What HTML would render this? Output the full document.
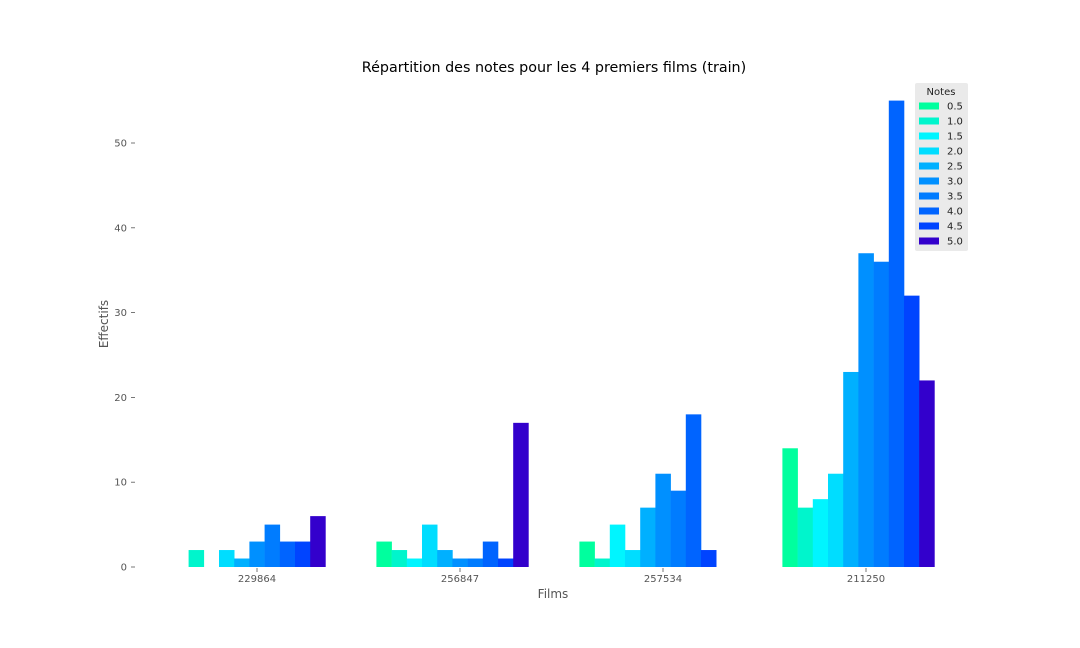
<!DOCTYPE html>
<html><head><meta charset="utf-8"><style>
body{margin:0;background:#fff;}
svg{display:block;font-family:"DejaVu Sans","Liberation Sans",sans-serif;}
</style></head><body>
<svg id="chart" width="1080" height="648">
<text x="554" y="72" text-anchor="middle" font-size="14.3" fill="#000">Répartition des notes pour les 4 premiers films (train)</text>
<text x="553" y="598" text-anchor="middle" font-size="12" fill="#555">Films</text>
<text transform="translate(108,324) rotate(-90)" text-anchor="middle" font-size="12" fill="#555">Effectifs</text>
<g id="bars"></g><g id="axes"></g><g id="legend"></g>
</svg>
<script>
const films = ["229864","256847","257534","211250"];
const notes = ["0.5","1.0","1.5","2.0","2.5","3.0","3.5","4.0","4.5","5.0"];
const colors = ["#00ff9e","#00f5cc","#00f5ff","#00ddff","#00b0ff","#0090ff","#007cff","#0064ff","#0044ff","#3300cc"];
const s05 = [0,3,3,14];
const s10 = [2,2,1,7];
const s15 = [0,1,5,8];
const s20 = [2,5,2,11];
const s25 = [1,2,7,23];
const s30 = [3,1,11,37];
const s35 = [5,1,9,36];
const s40 = [3,3,18,55];
const s45 = [3,1,2,32];
const s50 = [6,17,0,22];
const series = [s05,s10,s15,s20,s25,s30,s35,s40,s45,s50];
const yTicks = [0,10,20,30,40,50];

const NS="http://www.w3.org/2000/svg";
const y0=567, ppu=8.48;
const yScale=v=>y0-v*ppu;
const xCenter=i=>257+i*203;
const bw=15.2;
const bars=document.getElementById('bars');
films.forEach((f,gi)=>{
  series.forEach((s,si)=>{
    const v=s[gi]; if(!v) return;
    const r=document.createElementNS(NS,'rect');
    r.setAttribute('x',xCenter(gi)-5.5*bw+si*bw);
    r.setAttribute('y',yScale(v));
    r.setAttribute('width',bw+0.3);
    r.setAttribute('height',v*ppu);
    r.setAttribute('fill',colors[si]);
    
    
    bars.appendChild(r);
  });
});
const axes=document.getElementById('axes');
yTicks.forEach(t=>{
  const y=yScale(t);
  const tx=document.createElementNS(NS,'text');
  tx.setAttribute('x',127);tx.setAttribute('y',y+3.5);tx.setAttribute('text-anchor','end');
  tx.setAttribute('font-size','10');tx.setAttribute('fill','#555');
  tx.textContent=t;
  
  
  axes.appendChild(tx);
  const l=document.createElementNS(NS,'line');
  l.setAttribute('x1',131);l.setAttribute('x2',135);l.setAttribute('y1',y);l.setAttribute('y2',y);
  l.setAttribute('stroke','#555');l.setAttribute('stroke-width','0.8');
  
  
  axes.appendChild(l);
});
films.forEach((f,i)=>{
  const x=xCenter(i);
  const l=document.createElementNS(NS,'line');
  l.setAttribute('x1',x);l.setAttribute('x2',x);l.setAttribute('y1',568);l.setAttribute('y2',572);
  l.setAttribute('stroke','#555');l.setAttribute('stroke-width','0.8');
  
  
  axes.appendChild(l);
  const tx=document.createElementNS(NS,'text');
  tx.setAttribute('x',x);tx.setAttribute('y',582);tx.setAttribute('text-anchor','middle');
  tx.setAttribute('font-size','10');tx.setAttribute('fill','#555');
  tx.textContent=f;
  
  
  axes.appendChild(tx);
});
const lg=document.getElementById('legend');


const bg=document.createElementNS(NS,'rect');
bg.setAttribute('x',915);bg.setAttribute('y',83);bg.setAttribute('width',53);bg.setAttribute('height',168);
bg.setAttribute('rx',2);bg.setAttribute('fill','#eaeaea');


lg.appendChild(bg);
const lt=document.createElementNS(NS,'text');
lt.setAttribute('x',941);lt.setAttribute('y',95);lt.setAttribute('text-anchor','middle');
lt.setAttribute('font-size','10');lt.setAttribute('fill','#222');lt.textContent='Notes';


lg.appendChild(lt);
notes.forEach((n,i)=>{
  const y=106+i*15;
  const sw=document.createElementNS(NS,'rect');
  sw.setAttribute('x',919);sw.setAttribute('y',y-3.5);sw.setAttribute('width',20);sw.setAttribute('height',7);
  sw.setAttribute('fill',colors[i]);
  
  
  lg.appendChild(sw);
  const t=document.createElementNS(NS,'text');
  t.setAttribute('x',947);t.setAttribute('y',y+3.5);t.setAttribute('font-size','10');t.setAttribute('fill','#222');
  t.textContent=n;
  
  
  lg.appendChild(t);
});
</script>
</body></html>
